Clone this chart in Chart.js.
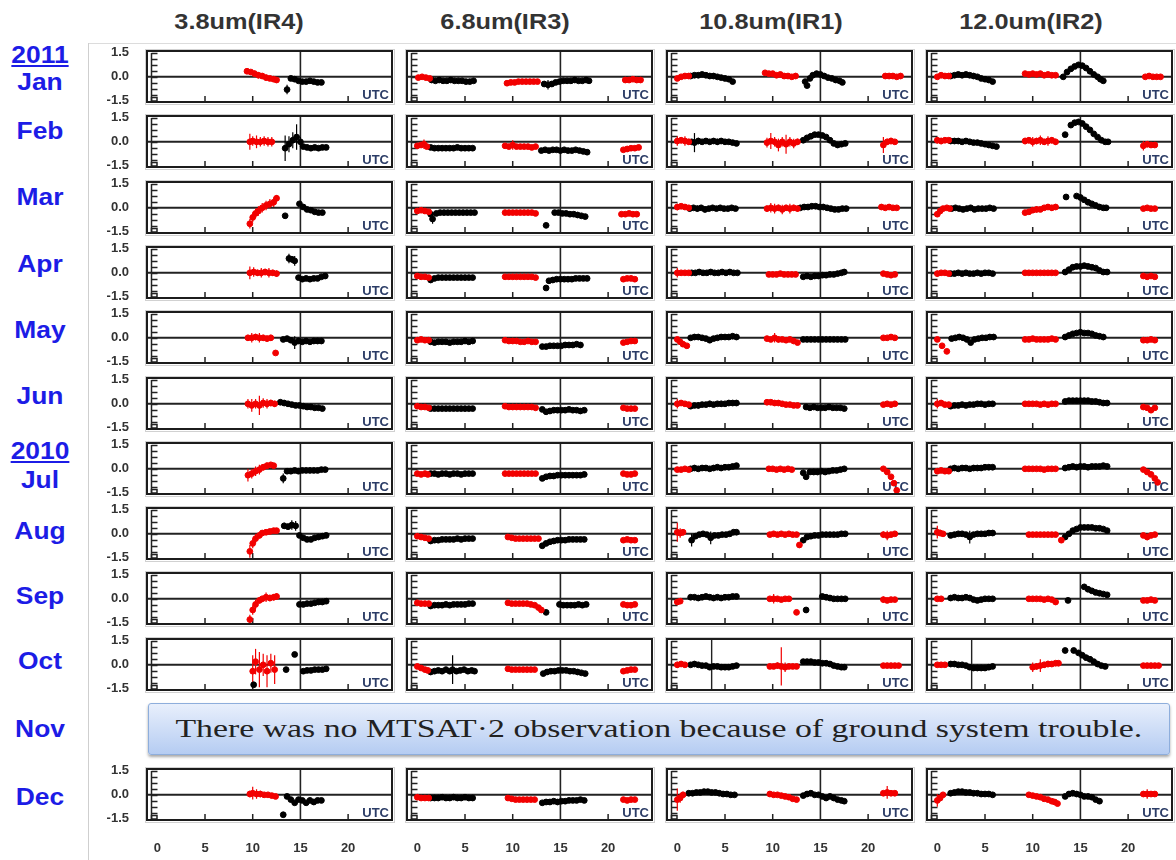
<!DOCTYPE html>
<html><head><meta charset="utf-8">
<script src="https://cdn.jsdelivr.net/npm/chart.js@4.4.1/dist/chart.umd.min.js"></script>
<style>
html,body{margin:0;padding:0;background:#fff;}
#root{position:relative;width:1176px;height:860px;overflow:hidden;font-family:"Liberation Sans",Arial,sans-serif;}
.hdr{position:absolute;font-weight:bold;font-size:22px;color:#333;transform:translate(-50%,-50%) scaleX(1.15);white-space:nowrap;}
.mon{position:absolute;left:40px;font-weight:bold;font-size:24px;color:#1c1ce6;transform:translate(-50%,-50%) scaleX(1.1);white-space:nowrap;}
.yr{text-decoration:underline;}
.vline{position:absolute;left:88px;top:43px;width:1px;height:817px;background:#cfcfcf;}
.hline{position:absolute;left:88px;top:43px;width:1088px;height:1px;background:#dcdcdc;}
#banner{position:absolute;left:148px;top:703px;width:1020px;height:50px;border:1px solid #8eaedc;border-radius:3px;
 background:linear-gradient(#e8effc,#b5ccf2);box-shadow:0 2px 3px rgba(0,0,0,0.35);display:flex;align-items:center;justify-content:center;}
#banner span{font-family:"Liberation Serif","Times New Roman",serif;font-size:26px;color:#222;display:inline-block;transform:scaleX(1.3);white-space:nowrap;}
canvas{position:absolute;}
</style></head>
<body><div id="root">
<div class="hline"></div><div class="vline"></div>
<div id="banner"><span>There was no MTSAT·2 observation because of ground system trouble.</span></div>
</div>
<script>
// ---------------- data ----------------
const channels = ['3.8um(IR4)','6.8um(IR3)','10.8um(IR1)','12.0um(IR2)'];
const months = ['Jan','Feb','Mar','Apr','May','Jun','Jul','Aug','Sep','Oct','Dec'];
const yearLabels = [['2011',55],['2010',451]];
const monthLabelY = [82,131,197,264,330,396,480,531,596,661,797];
const noDataMonth = 'Nov';
const xTickValues = [0,5,10,15,20];
const yTickValues = [-1.5,0,1.5];
const octMarkerX = 3.6;   // vertical marker line seen in Oct IR1 / IR2 panels

// points: [UTC hour, bias, error half-length]
const IR4_red = [
[[9.4,0.35,0.1],[9.8,0.3,0.15],[10.2,0.2,0.2],[10.6,0.1,0.2],[11,0.05,0.15],[11.4,-0.05,0.2],[11.8,-0.1,0.15],[12.2,-0.15,0.1],[12.5,-0.2,0.1]],
[[9.7,0,0.5],[10,0.05,0.3],[10.4,0,0.4],[10.8,0,0.3],[11.2,0.05,0.3],[11.6,0,0.3],[12,0,0.3]],
[[9.7,-1.0,0.3],[10,-0.6,0.3],[10.3,-0.35,0.3],[10.6,-0.2,0.3],[11,0,0.3],[11.4,0.15,0.3],[11.8,0.25,0.3],[12.2,0.35,0.3],[12.5,0.6,0.2]],
[[9.7,0,0.4],[10.1,0.05,0.3],[10.5,0,0.2],[10.9,0,0.3],[11.3,0.05,0.2],[11.7,0,0.3],[12.1,0,0.2],[12.5,-0.05,0.2]],
[[9.5,0,0.2],[9.9,0,0.3],[10.3,0.05,0.2],[10.7,0,0.3],[11.1,0,0.2],[11.5,-0.05,0.2],[11.9,0,0.2],[12.4,-0.95,0.1]],
[[9.5,0,0.3],[9.9,-0.1,0.4],[10.3,0,0.3],[10.7,-0.1,0.6],[11.1,0.05,0.3],[11.5,0,0.3],[11.9,0.05,0.2],[12.3,0,0.2]],
[[9.5,-0.4,0.4],[9.9,-0.3,0.3],[10.3,-0.15,0.3],[10.7,-0.05,0.3],[11.1,0.1,0.2],[11.5,0.2,0.2],[11.9,0.25,0.1],[12.2,0.2,0.1]],
[[9.7,-1.1,0.4],[10,-0.6,0.3],[10.3,-0.3,0.3],[10.7,-0.1,0.2],[11,0.05,0.1],[11.4,0.1,0.1],[11.8,0.15,0.1],[12.2,0.2],[12.5,0.2]],
[[9.7,-1.3,0.3],[10,-0.7,0.3],[10.3,-0.35,0.3],[10.7,-0.1,0.2],[11,0,0.2],[11.4,0.1,0.3],[11.8,0.05,0.2],[12.2,0.1,0.2],[12.5,0.15,0.2]],
[[10,-0.4,1.0],[10.3,0.2,0.8],[10.7,-0.3,1.1],[11.1,0,0.7],[11.5,-0.4,1.0],[11.9,0.1,0.6],[12.3,-0.3,0.9]],
[[9.7,0.05,0.2],[10,0.1,0.4],[10.4,0.05,0.3],[10.8,0.05,0.2],[11.2,0,0.1],[11.6,0,0.1],[12,-0.05,0.1],[12.4,-0.1]]
];
const IR4_black = [
[[13.6,-0.8,0.3],[14,-0.1,0.1],[14.4,-0.15,0.1],[14.8,-0.25],[15.2,-0.3,0.1],[15.6,-0.3],[16,-0.25,0.1],[16.4,-0.3],[16.8,-0.35],[17.2,-0.35]],
[[13.4,-0.4,0.8],[13.8,-0.15,0.5],[14.2,0.1,0.5],[14.6,0.3,0.8],[15,0,0.3],[15.3,-0.3,0.1],[15.7,-0.35],[16.1,-0.4],[16.5,-0.35],[16.9,-0.4],[17.3,-0.35],[17.7,-0.35]],
[[13.4,-0.5,0.1],[14.9,0.25,0.1],[15.3,0.05],[15.7,-0.1],[16.1,-0.15],[16.5,-0.25],[16.9,-0.3],[17.3,-0.3]],
[[13.8,0.9,0.3],[14.1,0.85,0.2],[14.4,0.75,0.3],[14.8,-0.3],[15.2,-0.4],[15.6,-0.35],[16,-0.4],[16.4,-0.35],[16.8,-0.35],[17.2,-0.25],[17.6,-0.2]],
[[13.2,-0.1,0.15],[13.6,-0.05,0.1],[14,-0.15,0.1],[14.4,-0.3,0.4],[14.8,-0.2,0.1],[15.2,-0.25,0.1],[15.6,-0.2],[16,-0.25,0.1],[16.4,-0.2],[16.8,-0.2],[17.2,-0.2]],
[[12.9,0.1],[13.3,0.05],[13.7,0],[14.1,-0.05],[14.5,-0.1],[14.9,-0.1],[15.3,-0.15],[15.7,-0.2],[16.1,-0.2],[16.5,-0.25],[16.9,-0.25],[17.3,-0.3]],
[[13.2,-0.6,0.3],[13.6,-0.15],[14,-0.15],[14.4,-0.1],[14.8,-0.15],[15.2,-0.1],[15.6,-0.1],[16,-0.1],[16.4,-0.1],[16.8,-0.1],[17.2,-0.05],[17.6,-0.05]],
[[13.3,0.5,0.2],[13.7,0.45,0.2],[14.1,0.55,0.3],[14.5,0.5,0.3],[14.9,-0.1,0.1],[15.3,-0.25,0.1],[15.7,-0.35,0.1],[16.1,-0.35],[16.5,-0.25],[16.9,-0.2],[17.3,-0.15],[17.7,-0.1]],
[[14.9,-0.35],[15.3,-0.35],[15.7,-0.3],[16.1,-0.3],[16.5,-0.25],[16.9,-0.2],[17.3,-0.2],[17.7,-0.15]],
[[10.1,-1.25],[13.5,-0.3],[14.4,0.65,0.1],[15.3,-0.4],[15.7,-0.35],[16.1,-0.35],[16.5,-0.3],[16.9,-0.3],[17.3,-0.3],[17.7,-0.25]],
[[13.2,-1.25],[13.6,-0.1],[14,-0.3,0.1],[14.4,-0.5],[14.8,-0.3],[15.2,-0.35],[15.6,-0.5],[16,-0.35],[16.4,-0.45],[16.8,-0.35],[17.2,-0.35]]
];
const IR3_red = [
[[0.1,-0.05,0.1],[0.5,0],[0.9,-0.05,0.1],[1.3,-0.1],[9.4,-0.4,0.1],[9.8,-0.35,0.1],[10.2,-0.35],[10.6,-0.3,0.1],[11,-0.3],[11.4,-0.3,0.1],[11.8,-0.3],[12.2,-0.3],[12.6,-0.3],[21.8,-0.2,0.1],[22.2,-0.2],[22.6,-0.15],[23,-0.2],[23.4,-0.2]],
[[0,-0.25,0.1],[0.4,-0.2,0.1],[0.7,-0.15,0.3],[1,-0.3,0.1],[9.2,-0.25,0.1],[9.6,-0.3,0.1],[10,-0.2,0.3],[10.4,-0.3,0.1],[10.8,-0.3,0.1],[11.2,-0.3,0.1],[11.6,-0.3,0.1],[12,-0.35,0.1],[12.4,-0.3,0.1],[21.6,-0.5,0.1],[22,-0.45,0.1],[22.4,-0.4,0.1],[22.8,-0.4,0.1],[23.2,-0.35,0.1]],
[[0,-0.2],[0.4,-0.15,0.1],[0.8,-0.2],[1.2,-0.25],[9.2,-0.3],[9.6,-0.3],[10,-0.3],[10.4,-0.3],[10.8,-0.3],[11.2,-0.3],[11.6,-0.3],[12,-0.3],[12.4,-0.35],[21.4,-0.4],[21.8,-0.4,0.1],[22.2,-0.35],[22.6,-0.4],[23,-0.4]],
[[0,-0.2,0.1],[0.4,-0.25],[0.8,-0.25],[1.2,-0.3],[9.2,-0.25],[9.6,-0.25],[10,-0.25],[10.4,-0.25],[10.8,-0.25],[11.2,-0.25],[11.6,-0.25],[12,-0.25],[12.4,-0.3],[21.6,-0.4],[22,-0.35],[22.4,-0.35],[22.8,-0.4]],
[[0,-0.15,0.1],[0.4,-0.1],[0.8,-0.15],[1.2,-0.15],[9.2,-0.15,0.1],[9.6,-0.2],[10,-0.2,0.1],[10.4,-0.2],[10.8,-0.25,0.1],[11.2,-0.25,0.1],[11.6,-0.2],[12,-0.25,0.1],[12.4,-0.25],[21.6,-0.3],[22,-0.25,0.1],[22.4,-0.2],[22.8,-0.2]],
[[0,-0.15,0.1],[0.4,-0.2],[0.8,-0.2],[1.2,-0.25],[9.2,-0.15],[9.6,-0.2],[10,-0.2],[10.4,-0.2],[10.8,-0.2],[11.2,-0.2],[11.6,-0.2],[12,-0.2],[12.4,-0.25],[21.6,-0.25],[22,-0.3],[22.4,-0.3],[22.8,-0.3]],
[[0,-0.3],[0.4,-0.35],[0.8,-0.3],[1.1,-0.35],[9.2,-0.3],[9.6,-0.3],[10,-0.3],[10.4,-0.3],[10.8,-0.3],[11.2,-0.3],[11.6,-0.3],[12,-0.3],[12.4,-0.3],[21.6,-0.3],[22,-0.35],[22.4,-0.35],[22.8,-0.3]],
[[0,-0.15],[0.4,-0.2],[0.8,-0.25],[1.2,-0.3],[9.5,-0.2],[9.9,-0.25],[10.3,-0.3],[10.7,-0.3],[11.1,-0.3],[11.5,-0.3],[11.9,-0.3],[12.3,-0.3],[12.7,-0.3],[21.6,-0.4],[22,-0.35],[22.4,-0.4],[22.8,-0.4]],
[[0,-0.25],[0.4,-0.3],[0.8,-0.3],[1.2,-0.3],[9.5,-0.25],[9.9,-0.3],[10.3,-0.3],[10.7,-0.3],[11.1,-0.3],[11.5,-0.3],[11.9,-0.35],[12.3,-0.4],[12.7,-0.55],[13,-0.7],[21.6,-0.35],[22,-0.4],[22.4,-0.4],[22.8,-0.35]],
[[0,-0.1],[0.4,-0.2],[0.8,-0.3],[1.1,-0.35],[9.5,-0.25],[9.9,-0.3],[10.3,-0.3],[10.7,-0.3],[11.1,-0.3],[11.5,-0.3],[11.9,-0.3],[12.3,-0.3],[21.6,-0.4],[22,-0.35],[22.4,-0.3],[22.8,-0.3]],
[[0,-0.15],[0.4,-0.2],[0.8,-0.2],[1.2,-0.2],[9.5,-0.2],[9.9,-0.25],[10.3,-0.3],[10.7,-0.3],[11.1,-0.3],[11.5,-0.3],[11.9,-0.3],[12.3,-0.3],[21.6,-0.3],[22,-0.35],[22.4,-0.3],[22.8,-0.3]]
];
const IR3_black = [
[[1.5,-0.2],[1.9,-0.25,0.1],[2.3,-0.2],[2.7,-0.25],[3.1,-0.25,0.1],[3.5,-0.2],[3.9,-0.25],[4.3,-0.25],[4.7,-0.25],[5.1,-0.3],[5.5,-0.3],[5.9,-0.25],[13.3,-0.45,0.1],[13.7,-0.5,0.3],[14.1,-0.45],[14.5,-0.35],[14.9,-0.3,0.1],[15.3,-0.25],[15.7,-0.25],[16.1,-0.25],[16.5,-0.2],[16.9,-0.25],[17.3,-0.25],[17.7,-0.2],[18,-0.25]],
[[1.4,-0.35,0.1],[1.8,-0.4],[2.2,-0.4],[2.6,-0.4],[3,-0.4,0.1],[3.4,-0.4],[3.8,-0.4],[4.2,-0.35],[4.6,-0.4],[5,-0.4],[5.4,-0.4],[5.8,-0.4],[13,-0.55,0.1],[13.4,-0.5,0.1],[13.8,-0.55],[14.2,-0.5,0.1],[14.6,-0.5],[15,-0.55],[15.4,-0.5,0.1],[15.8,-0.55],[16.2,-0.55],[16.6,-0.5],[17,-0.55],[17.4,-0.6],[17.8,-0.65]],
[[1.4,-0.4,0.1],[1.6,-0.7,0.3],[2,-0.35],[2.4,-0.3],[2.8,-0.3],[3.2,-0.3],[3.6,-0.3],[4,-0.3],[4.4,-0.3],[4.8,-0.3],[5.2,-0.3],[5.6,-0.3],[6,-0.3],[13.5,-1.1,0.1],[14.4,-0.3],[14.8,-0.3],[15.2,-0.35],[15.6,-0.35],[16,-0.4],[16.4,-0.4],[16.8,-0.45],[17.2,-0.5],[17.6,-0.55]],
[[1.4,-0.45,0.1],[1.8,-0.35],[2.2,-0.3],[2.6,-0.3],[3,-0.3],[3.4,-0.3],[3.8,-0.3],[4.2,-0.3],[4.6,-0.3],[5,-0.3],[5.4,-0.3],[5.8,-0.3],[13.5,-0.95,0.1],[13.8,-0.5],[14.2,-0.45],[14.6,-0.4],[15,-0.4],[15.4,-0.4],[15.8,-0.4],[16.2,-0.4],[16.6,-0.35],[17,-0.35],[17.4,-0.35],[17.8,-0.35]],
[[1.4,-0.25],[1.8,-0.3],[2.2,-0.25],[2.6,-0.25],[3,-0.25],[3.4,-0.3],[3.8,-0.25],[4.2,-0.25],[4.6,-0.25],[5,-0.2],[5.4,-0.25],[5.8,-0.2],[13.1,-0.55],[13.5,-0.55],[13.9,-0.5],[14.3,-0.5],[14.7,-0.5],[15.1,-0.5],[15.5,-0.45],[15.9,-0.45],[16.3,-0.45],[16.7,-0.4],[17.1,-0.45]],
[[1.4,-0.3],[1.8,-0.3],[2.2,-0.3],[2.6,-0.3],[3,-0.3],[3.4,-0.3],[3.8,-0.3],[4.2,-0.3],[4.6,-0.3],[5,-0.3],[5.4,-0.3],[5.8,-0.3],[13.1,-0.35],[13.5,-0.5,0.1],[13.9,-0.45],[14.3,-0.4],[14.7,-0.4,0.1],[15.1,-0.4],[15.5,-0.4],[15.9,-0.35,0.1],[16.3,-0.4],[16.7,-0.4],[17.1,-0.45],[17.5,-0.4]],
[[1.4,-0.3],[1.8,-0.3],[2.2,-0.35],[2.6,-0.3],[3,-0.3],[3.4,-0.35],[3.8,-0.3],[4.2,-0.3],[4.6,-0.35],[5,-0.3],[5.4,-0.3],[5.8,-0.3],[13.1,-0.6],[13.5,-0.5],[13.9,-0.45],[14.3,-0.45],[14.7,-0.4],[15.1,-0.4],[15.5,-0.4],[15.9,-0.4],[16.3,-0.4],[16.7,-0.4],[17.1,-0.4],[17.5,-0.35]],
[[1.4,-0.45],[1.8,-0.4],[2.2,-0.4],[2.6,-0.35],[3,-0.35],[3.4,-0.35],[3.8,-0.35],[4.2,-0.3],[4.6,-0.35],[5,-0.3],[5.4,-0.3],[5.8,-0.3],[13.1,-0.75],[13.5,-0.6],[13.9,-0.5],[14.3,-0.45],[14.7,-0.4],[15.1,-0.4],[15.5,-0.4],[15.9,-0.35],[16.3,-0.35],[16.7,-0.35],[17.1,-0.35],[17.5,-0.35]],
[[1.4,-0.45],[1.8,-0.4],[2.2,-0.4],[2.6,-0.4],[3,-0.35],[3.4,-0.4],[3.8,-0.35],[4.2,-0.35],[4.6,-0.35],[5,-0.35],[5.4,-0.3],[5.8,-0.3],[13.5,-0.85],[14.9,-0.35],[15.3,-0.4],[15.7,-0.4],[16.1,-0.4],[16.5,-0.4],[16.9,-0.35],[17.3,-0.4],[17.7,-0.35]],
[[1.4,-0.45,0.1],[1.8,-0.4,0.1],[2.2,-0.35,0.1],[2.6,-0.4,0.1],[3,-0.3,0.1],[3.4,-0.4,0.1],[3.7,-0.3,0.9],[4.1,-0.4,0.1],[4.5,-0.35,0.1],[4.9,-0.3,0.1],[5.3,-0.4,0.1],[5.7,-0.35,0.1],[6,-0.4],[13.2,-0.55],[13.6,-0.45],[14,-0.4],[14.4,-0.4],[14.8,-0.35],[15.2,-0.35],[15.6,-0.35],[16,-0.4],[16.4,-0.4],[16.8,-0.45],[17.2,-0.5],[17.6,-0.55]],
[[1.4,-0.2],[1.8,-0.2],[2.2,-0.2],[2.6,-0.15],[3,-0.2],[3.4,-0.2],[3.8,-0.15],[4.2,-0.2],[4.6,-0.2],[5,-0.15],[5.4,-0.2],[5.8,-0.2],[13.1,-0.5],[13.5,-0.45],[13.9,-0.45],[14.3,-0.4],[14.7,-0.45],[15.1,-0.4],[15.5,-0.4],[15.9,-0.35],[16.3,-0.35],[16.7,-0.35],[17.1,-0.3],[17.5,-0.35]]
];
const IR1_red = [
[[0,-0.1,0.1],[0.4,0,0.1],[0.8,0.05,0.1],[1.2,0.05],[9.2,0.25,0.1],[9.6,0.2,0.1],[10,0.2,0.1],[10.4,0.1,0.15],[10.8,0.15,0.1],[11.2,0.05,0.1],[11.6,0.05,0.15],[12,0,0.1],[12.4,0.05,0.1],[21.8,0.05,0.1],[22.2,0.05],[22.6,0.05,0.1],[23,0],[23.4,0.05]],
[[0,0.05,0.3],[0.4,0.1,0.2],[0.8,0.05,0.3],[1.2,0,0.2],[9.4,-0.05,0.3],[9.8,0.05,0.5],[10.2,0,0.3],[10.6,-0.2,0.4],[11,0,0.3],[11.4,-0.15,0.6],[11.8,0,0.3],[12.2,-0.1,0.3],[12.6,0,0.2],[21.6,-0.2,0.5],[22,0,0.2],[22.4,0.05,0.2],[22.8,0,0.1]],
[[0,0.05,0.2],[0.4,0.1,0.1],[0.8,0.05,0.1],[1.2,0,0.1],[9.4,-0.05,0.2],[9.8,0,0.3],[10.2,-0.05,0.3],[10.6,0,0.2],[11,-0.1,0.3],[11.4,0,0.2],[11.8,-0.05,0.3],[12.2,0,0.2],[12.6,-0.05,0.2],[21.4,0.05,0.1],[21.8,0,0.1],[22.2,0.05,0.1],[22.6,0],[23,0]],
[[0,0,0.3],[0.4,0,0.1],[0.8,0,0.1],[1.2,0,0.1],[9.6,-0.1,0.1],[10,-0.1],[10.4,-0.1,0.1],[10.8,-0.05],[11.2,-0.1],[11.6,-0.1],[12,-0.1],[12.4,-0.1],[21.6,-0.05],[22,-0.1],[22.4,-0.15,0.1],[22.8,-0.1]],
[[0,-0.1,0.1],[0.3,-0.25,0.1],[0.6,-0.4,0.1],[1,-0.5],[9.4,-0.05,0.1],[9.8,-0.1,0.1],[10.2,0,0.3],[10.6,-0.1,0.2],[11,-0.1,0.1],[11.4,-0.15,0.1],[11.8,-0.1,0.1],[12.2,-0.2,0.1],[12.6,-0.3],[21.6,0,0.1],[22,0],[22.4,0.05,0.1],[22.8,0]],
[[0,0,0.3],[0.4,0.05,0.1],[0.8,0,0.1],[1.2,-0.05,0.1],[9.4,0.1,0.1],[9.8,0.1],[10.2,0.05],[10.6,0.05],[11,0],[11.4,-0.05],[11.8,-0.05],[12.2,-0.1],[12.6,-0.1],[21.6,-0.05,0.1],[22,0],[22.4,-0.05,0.1],[22.8,0]],
[[0,-0.05,0.1],[0.4,-0.05],[0.8,0],[1.2,-0.05],[9.6,0],[10,0],[10.4,-0.05],[10.8,0],[11.2,-0.05],[11.6,0],[12,-0.05],[21.6,0,0.1],[22,-0.2,0.1],[22.4,-0.5,0.1],[22.7,-0.9,0.1],[23,-1.35,0.1]],
[[0,0.1,0.6],[0.3,0.05,0.3],[0.6,0.1,0.2],[9.7,-0.05,0.1],[10.1,0],[10.5,-0.05],[10.9,0],[11.3,-0.05],[11.7,0],[12.1,-0.05],[12.5,-0.05],[12.8,-0.7],[21.6,-0.05,0.2],[22,-0.1,0.3],[22.4,-0.05,0.1],[22.8,0]],
[[0,-0.2,0.1],[0.3,-0.15,0.1],[9.7,0,0.1],[10.1,0,0.3],[10.5,0,0.1],[10.9,-0.05,0.1],[11.3,0,0.1],[11.7,0,0.1],[12.5,-0.85],[21.6,-0.05,0.2],[22,-0.1,0.1],[22.4,-0.05,0.1],[22.8,-0.05]],
[[0,0,0.2],[0.4,0.05,0.1],[0.8,0],[9.7,-0.1,0.1],[10.1,-0.1,0.1],[10.5,-0.05,0.2],[10.9,-0.1,1.2],[11.3,-0.15,0.3],[11.7,-0.1,0.1],[12.1,-0.1,0.1],[12.5,-0.1],[21.6,-0.05],[22,-0.05],[22.4,-0.05],[22.8,-0.05],[23.2,-0.05]],
[[0,-0.3,0.7],[0.3,-0.2,0.3],[0.6,0,0.2],[9.7,0.05,0.1],[10.1,0],[10.5,0,0.1],[10.9,-0.05],[11.3,-0.1],[11.7,-0.15],[12.1,-0.25],[12.5,-0.3],[21.6,0.1,0.1],[22,0.15,0.4],[22.4,0.1,0.1],[22.8,0.1]]
];
const IR1_black = [
[[1.4,0.05],[1.8,0.1],[2.2,0.1],[2.6,0.15],[3,0.1],[3.4,0.05],[3.8,0.05],[4.2,0],[4.6,-0.05],[5,-0.1],[5.4,-0.15],[5.8,-0.3,0.1],[13.4,-0.3,0.1],[13.6,-0.55,0.1],[13.9,-0.1,0.1],[14.2,0.1],[14.6,0.2],[15,0.15],[15.4,0.05],[15.8,-0.05],[16.2,-0.1],[16.6,-0.2],[17,-0.25],[17.3,-0.35]],
[[1.5,0,0.1],[1.8,-0.05,0.6],[2.2,0.05,0.2],[2.6,0,0.1],[3,0.05,0.1],[3.4,0,0.1],[3.8,0.05,0.1],[4.2,0,0.2],[4.6,0.05,0.1],[5,0,0.1],[5.4,0,0.1],[5.8,-0.05,0.1],[6.2,-0.1,0.1],[13.2,0.1],[13.6,0.25],[14,0.35],[14.4,0.45],[14.8,0.45],[15.2,0.4],[15.6,0.3],[16,0.1],[16.4,-0.1],[16.8,-0.2],[17.2,-0.15],[17.6,-0.1]],
[[1.3,-0.05,0.1],[1.7,0,0.1],[2.1,-0.05,0.2],[2.5,0,0.1],[2.9,-0.1,0.2],[3.3,-0.05,0.1],[3.7,0,0.1],[4.1,-0.05,0.1],[4.5,0,0.1],[4.9,-0.05,0.1],[5.3,-0.05,0.1],[5.7,0,0.1],[6.1,-0.05,0.1],[12.9,0,0.1],[13.3,0.05],[13.7,0.05],[14.1,0.1],[14.5,0.1],[14.9,0.05],[15.3,0.05],[15.7,0],[16.1,-0.05],[16.5,-0.1],[16.9,-0.1],[17.3,-0.05],[17.7,-0.05]],
[[1.5,0],[1.9,0],[2.3,0.05],[2.7,0],[3.1,0,0.1],[3.5,0.05],[3.9,0],[4.3,0],[4.7,0.05],[5.1,0],[5.5,0.05],[5.9,0],[6.3,0],[13.2,-0.25],[13.6,-0.2],[14,-0.25],[14.4,-0.2],[14.8,-0.2],[15.2,-0.15,0.1],[15.6,-0.15],[16,-0.1],[16.4,-0.1],[16.8,-0.05],[17.2,0],[17.5,0.05]],
[[1.4,0],[1.8,0.05],[2.2,0.05],[2.6,0],[3,-0.05],[3.4,-0.15,0.1],[3.8,-0.05],[4.2,0],[4.6,0.05],[5,0.05],[5.4,0.05],[5.8,0.1],[6.2,0.05],[13.2,-0.1],[13.6,-0.1],[14,-0.1],[14.4,-0.1],[14.8,-0.1],[15.2,-0.1],[15.6,-0.1],[16,-0.1],[16.4,-0.1],[16.8,-0.1],[17.2,-0.1],[17.6,-0.1]],
[[1.4,-0.15,0.1],[1.8,-0.1,0.1],[2.2,-0.1,0.2],[2.6,-0.05,0.1],[3,-0.05,0.1],[3.4,0,0.2],[3.8,-0.05,0.1],[4.2,0,0.1],[4.6,0,0.2],[5,0,0.1],[5.4,0.05,0.1],[5.8,0.05,0.1],[6.2,0.05],[13.5,-0.2,0.1],[13.9,-0.25,0.1],[14.3,-0.2,0.1],[14.7,-0.25,0.1],[15.1,-0.25],[15.5,-0.25,0.1],[15.9,-0.2],[16.3,-0.25],[16.7,-0.25],[17.1,-0.25],[17.5,-0.3]],
[[1.4,0],[1.8,0.05],[2.2,0],[2.6,0.05],[3,0.05],[3.4,0],[3.8,0.05],[4.2,0.1],[4.6,0.05],[5,0.1],[5.4,0.1],[5.8,0.15],[6.2,0.2],[13.2,-0.25],[13.5,-0.5,0.1],[13.9,-0.2],[14.3,-0.2],[14.7,-0.2],[15.1,-0.15],[15.5,-0.2],[15.9,-0.15],[16.3,-0.1],[16.7,-0.1],[17.1,-0.05],[17.5,0]],
[[1.5,-0.4,0.4],[1.9,-0.15,0.1],[2.3,-0.05],[2.7,0],[3.1,-0.05],[3.5,-0.25,0.4],[3.9,-0.1],[4.3,-0.1],[4.7,-0.05],[5.1,-0.05],[5.5,0],[5.9,0.1],[6.2,0.1],[13.2,-0.4],[13.6,-0.2],[14,-0.15],[14.4,-0.1],[14.8,-0.1,0.1],[15.2,-0.05],[15.6,-0.05],[16,-0.05,0.1],[16.4,-0.05],[16.8,-0.05],[17.2,0],[17.6,0]],
[[1.4,0.1],[1.8,0.1],[2.2,0.05],[2.6,0.1],[3,0.15],[3.4,0.1],[3.8,0.05],[4.2,0.1],[4.6,0.05],[5,0.1],[5.4,0.1],[5.8,0.15],[6.2,0.15],[13.5,-0.7],[15.2,0.15],[15.6,0.1],[16,0.05],[16.4,0],[16.8,0],[17.2,0],[17.6,0]],
[[1.4,0],[1.8,0.05],[2.2,0],[2.6,-0.05],[3,-0.05],[3.4,-0.15],[3.8,-0.1,0.1],[4.2,-0.1],[4.6,-0.15],[5,-0.15],[5.4,-0.15],[5.8,-0.1],[6.2,-0.05],[13.2,0.2],[13.6,0.2],[14,0.2],[14.4,0.15],[14.8,0.15],[15.2,0.1],[15.6,0.1],[16,0.05],[16.4,-0.05],[16.8,-0.1],[17.2,-0.15],[17.5,-0.15]],
[[1.2,0.1],[1.6,0.1],[2,0.15],[2.4,0.15],[2.8,0.2],[3.2,0.2],[3.6,0.15],[4,0.15],[4.4,0.1],[4.8,0.05],[5.2,0.05],[5.6,0],[6,0],[13.2,-0.05],[13.6,0.05],[14,0.1],[14.4,0],[14.8,0],[15.2,-0.1],[15.6,-0.2],[16,-0.1],[16.4,-0.2],[16.8,-0.3],[17.2,-0.35],[17.5,-0.4]]
];
const IR2_red = [
[[0,0,0.1],[0.4,0.1,0.1],[0.8,0.05,0.1],[1.2,0.05],[9.2,0.2,0.1],[9.6,0.15,0.1],[10,0.2,0.1],[10.4,0.15,0.1],[10.8,0.2,0.1],[11.2,0.1,0.1],[11.6,0.15,0.1],[12,0.1,0.1],[12.4,0.1,0.1],[21.8,0,0.1],[22.2,0.05],[22.6,0,0.1],[23,0],[23.4,0]],
[[0,0.1,0.2],[0.4,0.05,0.2],[0.8,0.1,0.1],[1.2,0.1,0.1],[9.2,0.05,0.2],[9.6,0.1,0.2],[10,0,0.3],[10.4,0.05,0.2],[10.8,0.1,0.3],[11.2,0,0.2],[11.6,0.05,0.3],[12,0.1,0.2],[12.4,0,0.2],[21.6,-0.25,0.3],[22,-0.15,0.2],[22.4,-0.2,0.1],[22.8,-0.2,0.1]],
[[0,-0.4,0.1],[0.3,-0.2,0.1],[0.6,-0.05,0.1],[1,0,0.1],[1.3,-0.05,0.1],[9.2,-0.3,0.1],[9.6,-0.25,0.1],[10,-0.15,0.1],[10.4,-0.1,0.2],[10.8,-0.1,0.1],[11.2,0,0.1],[11.6,0.05,0.1],[12,0,0.2],[12.4,0.05,0.1],[21.6,-0.05,0.1],[22,0],[22.4,-0.05,0.1],[22.8,-0.05]],
[[0,-0.05,0.2],[0.4,0,0.1],[0.8,0],[1.2,-0.05],[9.2,0],[9.6,0],[10,0],[10.4,0],[10.8,0],[11.2,0],[11.6,0],[12,0],[12.4,0],[21.6,-0.2,0.1],[22,-0.25,0.1],[22.4,-0.2],[22.8,-0.25]],
[[0,-0.1,0.1],[0.5,-0.5,0.1],[1,-0.85,0.1],[9.2,-0.1,0.1],[9.6,-0.1],[10,-0.05,0.1],[10.4,-0.1],[10.8,-0.1,0.1],[11.2,-0.1],[11.6,-0.1,0.1],[12,-0.05],[12.4,-0.1],[21.6,-0.15,0.1],[22,-0.15],[22.4,-0.1],[22.8,-0.15]],
[[0,0,0.3],[0.4,0.05,0.1],[0.8,-0.05,0.1],[1.2,-0.05],[9.2,0],[9.6,0],[10,0],[10.4,0],[10.8,-0.05],[11.2,0],[11.6,-0.05],[12,0],[12.4,0],[21.6,-0.2,0.1],[22,-0.25,0.1],[22.4,-0.4,0.1],[22.8,-0.25]],
[[0,-0.15,0.1],[0.4,-0.1],[0.8,-0.15],[1.2,-0.15],[9.2,0],[9.6,0],[10,0],[10.4,0],[10.8,0],[11.2,-0.05],[11.6,0],[12,0],[12.4,0],[21.6,-0.05,0.1],[22,-0.2,0.1],[22.4,-0.35,0.1],[22.8,-0.6,0.1],[23.1,-0.85,0.1]],
[[0,0.1,0.4],[0.3,0.05,0.2],[0.6,0,0.1],[9.6,-0.05],[10,-0.05],[10.4,-0.05],[10.8,-0.05],[11.2,-0.05],[11.6,-0.05],[12,-0.05],[12.4,-0.05],[13,-0.4],[21.6,-0.1,0.1],[22,-0.2,0.2],[22.4,-0.1,0.1],[22.8,-0.05]],
[[0,0,0.1],[0.4,0],[9.6,0,0.1],[10,0],[10.4,0,0.1],[10.8,0],[11.2,-0.05],[11.6,0],[12,-0.05],[12.4,-0.2],[21.6,-0.1,0.1],[22,-0.1],[22.4,-0.05],[22.8,-0.1]],
[[0,0,0.1],[0.4,0],[0.8,0],[10,-0.15,0.3],[10.4,-0.1,0.2],[10.8,-0.05,0.4],[11.2,0,0.2],[11.6,0.05,0.2],[12,0.05,0.1],[12.4,0.1,0.1],[12.7,0.1],[21.6,-0.05],[22,-0.05],[22.4,-0.05],[22.8,-0.05],[23.2,-0.05]],
[[0,-0.35,0.4],[0.3,-0.2,0.2],[0.6,0,0.1],[9.6,0],[10,-0.05],[10.4,-0.1],[10.8,-0.15],[11.2,-0.25],[11.6,-0.3],[12,-0.4],[12.3,-0.45],[12.6,-0.55],[21.6,0.05,0.1],[22,0.05,0.3],[22.4,0.05,0.1],[22.8,0.05]]
];
const IR2_black = [
[[1.4,0.05],[1.8,0.1],[2.2,0.15],[2.6,0.1],[3,0.15],[3.4,0.1],[3.8,0.05],[4.2,0],[4.6,-0.1],[5,-0.15],[5.4,-0.2,0.1],[5.8,-0.3,0.1],[13.2,0],[13.6,0.3],[14,0.5],[14.4,0.65],[14.8,0.75],[15.2,0.7],[15.6,0.55],[16,0.35],[16.4,0.15],[16.8,0],[17.1,-0.15],[17.4,-0.25]],
[[1.4,0.05],[1.8,0.05],[2.2,0.05],[2.6,0],[3,0.05],[3.4,0],[3.8,-0.05],[4.2,-0.05],[4.6,-0.1],[5,-0.15],[5.4,-0.2,0.1],[5.8,-0.25],[6.2,-0.3],[13.4,0.45],[14,1.05],[14.4,1.2],[14.8,1.25],[15.2,1.15],[15.6,0.95],[16,0.75],[16.4,0.5],[16.8,0.3],[17.2,0.1],[17.6,0],[17.9,0]],
[[1.5,-0.05,0.1],[1.9,0],[2.3,-0.05,0.1],[2.7,-0.1,0.1],[3.1,-0.05],[3.5,0],[3.9,-0.1,0.1],[4.3,-0.05],[4.7,-0.05],[5.1,-0.05],[5.5,0],[5.9,-0.05],[13.5,0.68],[14.6,0.74],[15,0.65],[15.4,0.5],[15.8,0.35],[16.2,0.25],[16.6,0.15],[17,0.05],[17.4,0],[17.7,0]],
[[1.4,-0.05],[1.8,-0.05],[2.2,0],[2.6,-0.05],[3,0,0.1],[3.4,-0.05],[3.8,-0.05],[4.2,0],[4.6,-0.05],[5,0],[5.4,0],[5.8,-0.05],[13.4,0.05],[13.8,0.2],[14.2,0.35],[14.6,0.4,0.1],[15,0.4],[15.4,0.45,0.1],[15.8,0.4],[16.2,0.35,0.1],[16.6,0.3],[17,0.15],[17.4,0.05],[17.8,0.05]],
[[1.5,-0.05],[1.9,0],[2.3,0.05],[2.7,0],[3.1,-0.1],[3.5,-0.3,0.1],[3.9,-0.1],[4.3,-0.05],[4.7,0],[5.1,0],[5.5,0.05],[5.9,0.05],[13.4,0.05],[13.8,0.15],[14.2,0.25],[14.6,0.3],[15,0.35],[15.4,0.3],[15.8,0.3],[16.2,0.25],[16.6,0.15],[17,0.1],[17.4,0.05]],
[[1.4,-0.15],[1.8,-0.1],[2.2,-0.1],[2.6,-0.05],[3,-0.1],[3.4,-0.05],[3.8,-0.05,0.1],[4.2,0],[4.6,0],[5,-0.05],[5.4,0],[5.8,0],[13.4,0.15],[13.8,0.2],[14.2,0.2],[14.6,0.2],[15,0.2],[15.4,0.2],[15.8,0.2],[16.2,0.15],[16.6,0.15],[17,0.1],[17.4,0.05],[17.8,0.05]],
[[1.4,0],[1.8,0.05],[2.2,0],[2.6,0.05],[3,0.05],[3.4,0],[3.8,0.05],[4.2,0.05],[4.6,0.05],[5,0.1],[5.4,0.1],[5.8,0.1],[13.4,0.05],[13.8,0.1],[14.2,0.15],[14.6,0.1],[15,0.15],[15.4,0.15],[15.8,0.1],[16.2,0.15],[16.6,0.15],[17,0.15],[17.4,0.2],[17.8,0.15]],
[[1.4,-0.1,0.1],[1.8,-0.05],[2.2,0,0.1],[2.6,0],[3,-0.05,0.1],[3.4,-0.2,0.4],[3.8,-0.05],[4.2,0],[4.6,0],[5,0],[5.4,0.05],[5.8,0.05],[13.4,-0.2],[13.8,0],[14.2,0.2],[14.6,0.3],[15,0.4],[15.4,0.4,0.1],[15.8,0.4],[16.2,0.4,0.1],[16.6,0.35],[17,0.35],[17.4,0.3],[17.8,0.2]],
[[1.4,0.05],[1.8,0.1],[2.2,0.05],[2.6,0.05],[3,0.1],[3.4,0.05],[3.8,-0.05],[4.2,-0.1],[4.6,-0.05],[5,0],[5.4,0],[5.8,0],[13.7,-0.1],[15.4,0.75],[15.8,0.6],[16.2,0.5],[16.6,0.4],[17,0.35],[17.4,0.3],[17.8,0.25]],
[[1.4,0.05],[1.8,0.05],[2.2,0],[2.6,0],[3,-0.05],[3.4,-0.15],[3.8,-0.2],[4.2,-0.2],[4.6,-0.2],[5,-0.2],[5.4,-0.15],[5.8,-0.1],[13.4,0.9],[14.3,0.9],[14.8,0.75],[15.2,0.6],[15.6,0.45],[16,0.35],[16.4,0.2],[16.8,0.05],[17.2,-0.05],[17.6,-0.1]],
[[1.4,0.1],[1.8,0.15],[2.2,0.2],[2.6,0.2],[3,0.15],[3.4,0.15],[3.8,0.1],[4.2,0.1],[4.6,0.05],[5,0.05],[5.4,0.05],[5.8,0],[13.4,-0.1],[13.8,0.05],[14.2,0.1],[14.6,0.05],[15,0],[15.4,-0.1],[15.8,-0.1],[16.2,-0.15],[16.6,-0.3],[17,-0.4]]
];

// ---------------- layout ----------------
const root = document.getElementById('root');
const headerX = [239, 505, 771, 1031];
channels.forEach((t,i)=>{
  const d=document.createElement('div'); d.className='hdr'; d.textContent=t;
  d.style.left=headerX[i]+'px'; d.style.top='22px'; root.appendChild(d);
});
yearLabels.forEach(([t,y])=>{
  const d=document.createElement('div'); d.className='mon yr'; d.textContent=t; d.style.top=y+'px'; root.appendChild(d);
});
months.forEach((m,i)=>{
  const d=document.createElement('div'); d.className='mon'; d.textContent=m; d.style.top=monthLabelY[i]+'px'; root.appendChild(d);
});
{ const d=document.createElement('div'); d.className='mon'; d.textContent=noDataMonth; d.style.top='729px'; root.appendChild(d); }

Chart.defaults.font.family = '"Liberation Sans", Arial, sans-serif';

const deco = {
  id:'deco',
  beforeDatasetsDraw(chart, args, opts){
    const {ctx, chartArea:a, scales:{x,y}} = chart;
    ctx.save();
    ctx.beginPath(); ctx.rect(a.left,a.top,a.right-a.left,a.bottom-a.top); ctx.clip();
    ctx.strokeStyle='#222';
    ctx.lineWidth=2;
    const y0=y.getPixelForValue(0);
    ctx.beginPath(); ctx.moveTo(a.left,y0); ctx.lineTo(a.right,y0); ctx.stroke();
    ctx.lineWidth=1.6;
    const x15=x.getPixelForValue(15);
    ctx.beginPath(); ctx.moveTo(x15,a.top); ctx.lineTo(x15,a.bottom); ctx.stroke();
    if (opts.markerX!=null){
      const xm=x.getPixelForValue(opts.markerX);
      ctx.lineWidth=1.4; ctx.beginPath(); ctx.moveTo(xm,a.top); ctx.lineTo(xm,a.bottom); ctx.stroke();
    }
    ctx.lineWidth=1.5;
    const ex=a.left+4.5;
    ctx.beginPath(); ctx.moveTo(ex,a.top+2); ctx.lineTo(ex,a.bottom); ctx.stroke();
    for(let k=-3;k<=4;k++){
      const py=Math.round(y.getPixelForValue(k*0.375))+0.5;
      ctx.beginPath(); ctx.moveTo(ex,py); ctx.lineTo(ex+6,py); ctx.stroke();
    }
    const by=y.getPixelForValue(-1.3);
    ctx.strokeRect(ex,by,5.5,a.bottom-by-1);
    [5,10,20].forEach(v=>{
      const px=x.getPixelForValue(v);
      ctx.beginPath(); ctx.moveTo(px,a.bottom); ctx.lineTo(px,a.bottom-6); ctx.stroke();
    });
    ctx.font='bold 13px "Liberation Sans", Arial, sans-serif';
    ctx.fillStyle='#2b3c66'; ctx.textAlign='right'; ctx.textBaseline='bottom';
    ctx.fillText('UTC', a.right-3, a.bottom-0.5);
    chart.data.datasets.forEach(ds=>{
      ctx.strokeStyle=ds.borderColor; ctx.lineWidth=1.2;
      ds.data.forEach(p=>{
        if(!p.e) return;
        const px=x.getPixelForValue(p.x);
        ctx.beginPath(); ctx.moveTo(px,y.getPixelForValue(p.y-p.e)); ctx.lineTo(px,y.getPixelForValue(p.y+p.e)); ctx.stroke();
      });
    });
    ctx.restore();
  },
  afterDraw(chart){
    const {ctx, chartArea:a} = chart;
    ctx.save();
    ctx.strokeStyle='rgba(0,0,0,0.18)'; ctx.lineWidth=1;
    ctx.strokeRect(a.left-1.5,a.top-1.5,a.right-a.left+4,a.bottom-a.top+4);
    ctx.strokeStyle='#1c1c1c'; ctx.lineWidth=2;
    ctx.strokeRect(a.left,a.top,a.right-a.left,a.bottom-a.top);
    ctx.restore();
  }
};

const chans = [[IR4_red,IR4_black],[IR3_red,IR3_black],[IR1_red,IR1_black],[IR2_red,IR2_black]];
const rowOf = [0,1,2,3,4,5,6,7,8,9,11];
const toPts = arr => arr.map(p=>({x:p[0], y:p[1], e:p[2]||0}));
const hiddenGrid = len => ({display:true, drawOnChartArea:false, drawTicks:true, tickLength:len, color:'rgba(0,0,0,0)'});

function makePanel(m, c){
  const r=rowOf[m];
  const zero=77+65.3*r;
  const fTop=Math.round(zero-26), fH=51, fLeft=147+260*c, fW=245;
  const padL = c===0 ? 60 : 0;
  const padB = m===months.length-1 ? 34 : 0;
  const M=12;
  const cv=document.createElement('canvas');
  const W=fW+padL+2*M, H=fH+padB+2*M;
  cv.width=W; cv.height=H;
  cv.style.width=W+'px'; cv.style.height=H+'px';
  cv.style.left=(fLeft-M-padL)+'px'; cv.style.top=(fTop-M)+'px';
  root.appendChild(cv);
  const [red, black] = chans[c];
  const marker = (months[m]==='Oct' && c>=2) ? octMarkerX : null;
  new Chart(cv, {
    type:'scatter',
    data:{datasets:[
      {data:toPts(red[m]), backgroundColor:'#f20000', borderColor:'#f20000', pointRadius:2.9, pointBorderWidth:1},
      {data:toPts(black[m]), backgroundColor:'#000', borderColor:'#000', pointRadius:2.9, pointBorderWidth:1}
    ]},
    options:{
      responsive:false, animation:false, events:[],
      devicePixelRatio:1,
      layout:{padding:M, autoPadding:false},
      plugins:{legend:{display:false}, tooltip:{enabled:false}, deco:{markerX:marker}},
      scales:{
        x:{type:'linear', min:-1.08, max:24.6,
           afterBuildTicks:s=>{ s.ticks = xTickValues.map(v=>({value:v})); },
           afterFit:s=>{ s.height=padB; },
           grid:hiddenGrid(21), border:{display:false},
           ticks:{display:padB>0, padding:0, autoSkip:false, color:'#333', font:{size:13, weight:'bold'}, maxRotation:0, callback:v=>String(v)}},
        y:{type:'linear', min:-1.58, max:1.62,
           afterBuildTicks:s=>{ s.ticks = yTickValues.map(v=>({value:v})); },
           afterFit:s=>{ s.width=padL; },
           grid:hiddenGrid(18), border:{display:false},
           ticks:{display:padL>0, padding:0, autoSkip:false, color:'#333', font:{size:13, weight:'bold'}, callback:v=>v.toFixed(1)}}
      }
    },
    plugins:[deco]
  });
}
for(let m=0;m<months.length;m++) for(let c=0;c<4;c++) makePanel(m,c);
</script>
</body></html>
